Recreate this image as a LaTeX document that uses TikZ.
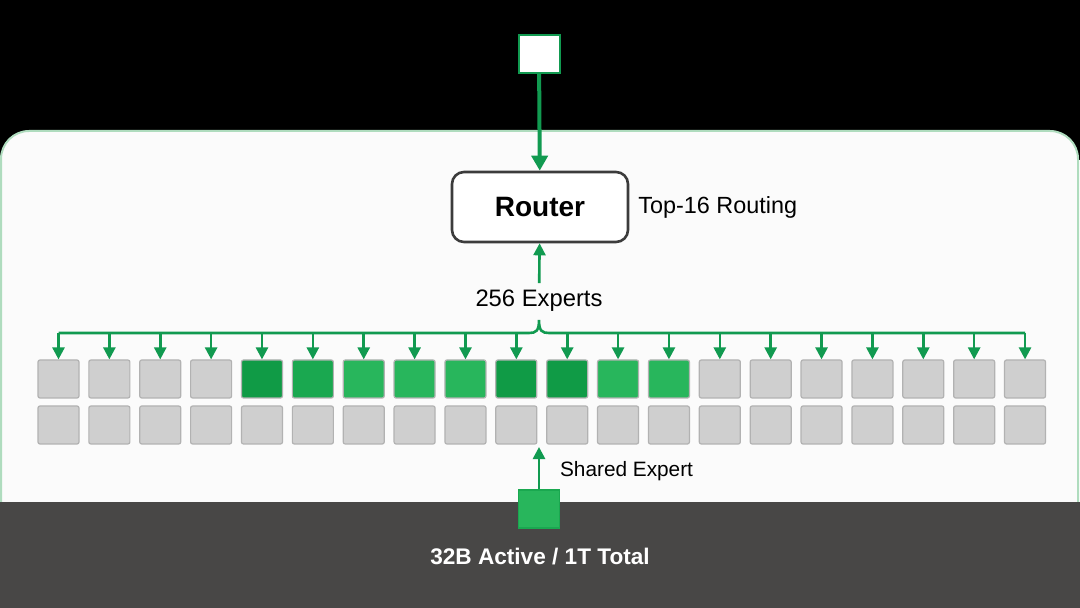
\documentclass[tikz,border=0pt]{standalone}
\usepackage{fontspec}
\setmainfont{Liberation Sans}
\usetikzlibrary{arrows.meta,positioning}
\definecolor{linkgreen}{RGB}{17,154,80}
\definecolor{gdark}{RGB}{16,155,70}
\definecolor{gmid}{RGB}{26,168,80}
\definecolor{glight}{RGB}{40,182,92}
\definecolor{boxgrey}{RGB}{207,207,207}
\definecolor{boxedge}{RGB}{178,178,178}
\definecolor{panel}{RGB}{251,251,251}
\definecolor{panelline}{RGB}{175,220,190}
\definecolor{bandgrey}{RGB}{72,71,70}
\definecolor{routeredge}{RGB}{60,60,60}

\begin{document}
\begin{tikzpicture}[x=0.5pt,y=-0.5pt,
  expert/.style={draw=boxedge,fill=boxgrey,rounded corners=1pt,minimum width=20.5pt,minimum height=19pt,inner sep=0pt,line width=0.6pt},
  link/.style={draw=linkgreen,line width=1.3pt,-{Triangle[width=6pt,length=6pt]}},
  busline/.style={draw=linkgreen,line width=1.3pt}]

\useasboundingbox (0,0) rectangle (1080,608);
\fill[black] (0,0) rectangle (1080,160);
\filldraw[fill=panel,draw=panelline,line width=1pt,rounded corners=14pt] (1,131) rectangle (1078,540);
\fill[bandgrey] (0,502) rectangle (1080,608);

\node[draw=linkgreen,fill=white,line width=1pt,minimum width=20.5pt,minimum height=19pt] (token) at (539,54) {};
\node[draw=routeredge,fill=white,line width=1.3pt,rounded corners=6pt,minimum width=88pt,minimum height=35pt,font=\bfseries\fontsize{14}{16}\selectfont] (router) at (540,207) {Router};
\node[right=1pt of router,font=\fontsize{11.7}{14}\selectfont] (topk) {Top-16 Routing};
\node[font=\fontsize{11.9}{14}\selectfont] (count) at (539,301) {256 Experts};
\draw[link,line width=2pt,-{Triangle[width=8pt,length=7.5pt]}] (token) -- (router);
\draw[link] (count) -- (router);

\coordinate (bus) at (539,333);
\foreach \c [count=\i] in {boxgrey,boxgrey,boxgrey,boxgrey,gdark,gmid,glight,glight,glight,gdark,gdark,glight,glight,boxgrey,boxgrey,boxgrey,boxgrey,boxgrey,boxgrey,boxgrey} {
  \node[expert,fill=\c] (a\i) at ({58.5+(\i-1)*50.87},379) {};
  \node[expert] (b\i) at ({58.5+(\i-1)*50.87},425) {};
  \draw[link] (a\i |- bus) -- (a\i);
}
\draw[busline] (a1 |- bus) -- (529,333) .. controls (536,333) and (539,331) .. (539,320)
  .. controls (539,331) and (542,333) .. (549,333) -- (a20 |- bus);

\node[fill=glight,draw=gmid,line width=0.6pt,minimum width=20.5pt,minimum height=19pt] (shared) at (539,509) {};
\coordinate (sharedtip) at (539,447);
\draw[link] (shared) -- (sharedtip);
\node[anchor=west,font=\fontsize{10.4}{12}\selectfont] (sharedlabel) at (553,471) {Shared Expert};
\node[text=white,font=\bfseries\fontsize{11.3}{14}\selectfont] (total) at (540,557) {32B Active / 1T Total};
\end{tikzpicture}
\end{document}
